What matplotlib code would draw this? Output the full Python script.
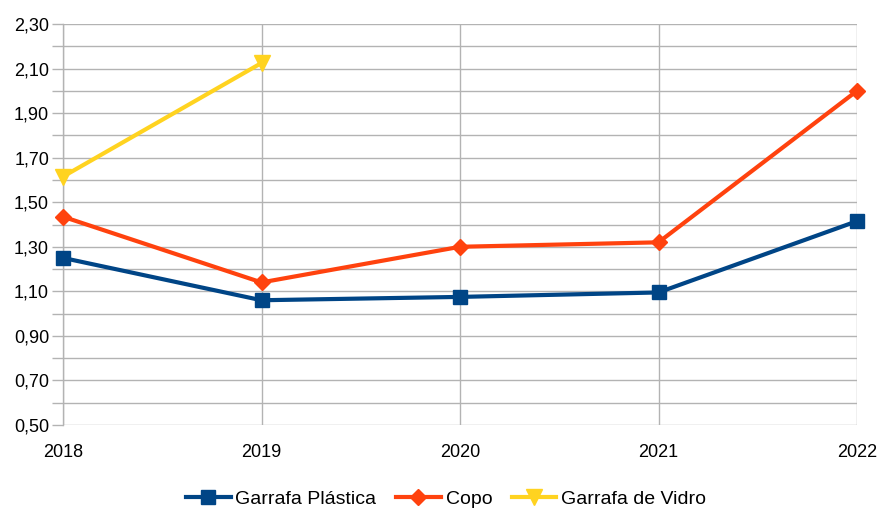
import matplotlib
matplotlib.use("Agg")
import matplotlib.pyplot as plt
import numpy as np
from matplotlib.ticker import FixedLocator, FuncFormatter

years = [2018, 2019, 2020, 2021, 2022]
garrafa_plastica = [1.25, 1.06, 1.075, 1.095, 1.415]
copo = [1.435, 1.14, 1.30, 1.32, 2.00]
vidro_years = [2018, 2019]
garrafa_vidro = [1.615, 2.125]
y_major = [0.5, 0.7, 0.9, 1.1, 1.3, 1.5, 1.7, 1.9, 2.1, 2.3]
y_minor = [0.6, 0.8, 1.0, 1.2, 1.4, 1.6, 1.8, 2.0, 2.2]

plt.rcParams['font.family'] = ['Liberation Sans', 'DejaVu Sans']

fig = plt.figure(figsize=(8.78, 5.08), dpi=100)
ax = fig.add_axes([63/878, 1-425/508, (857-63)/878, (425-24)/508])

grid_c = '#b3b3b3'
ax.plot(years, garrafa_plastica, color='#004586', lw=3, marker='s', ms=10,
        label='Garrafa Plástica', zorder=3, clip_on=False)
ax.plot(years, copo, color='#ff420e', lw=3, marker='D', ms=8,
        label='Copo', zorder=3, clip_on=False)
ax.plot(vidro_years, garrafa_vidro, color='#ffd320', lw=3, marker='v', ms=11,
        label='Garrafa de Vidro', zorder=3, clip_on=False)

ax.set_xlim(2018, 2022)
ax.set_ylim(0.5, 2.3)
ax.set_xticks(years)
ax.yaxis.set_major_locator(FixedLocator(y_major))
ax.yaxis.set_minor_locator(FixedLocator(y_minor))
ax.yaxis.set_major_formatter(FuncFormatter(lambda v, p: f"{v:.2f}".replace('.', ',')))

ax.grid(True, which='both', axis='y', color=grid_c, lw=1)
ax.grid(True, which='major', axis='x', color=grid_c, lw=1)
ax.set_axisbelow(True)
for s in ['top', 'right', 'bottom']:
    ax.spines[s].set_visible(False)
ax.spines['left'].set_color(grid_c)
ax.spines['left'].set_linewidth(1)
ax.tick_params(axis='y', which='both', length=8, color=grid_c, width=1,
               labelsize=13, pad=2)
ax.tick_params(axis='x', which='both', length=0, labelsize=13, pad=14)

fig.legend(loc='lower center', bbox_to_anchor=(0.508, -0.035), ncol=3, frameon=False,
           fontsize=14, handlelength=2.3, handletextpad=0.25, columnspacing=1.0)

fig.savefig('out.png', dpi=100)
